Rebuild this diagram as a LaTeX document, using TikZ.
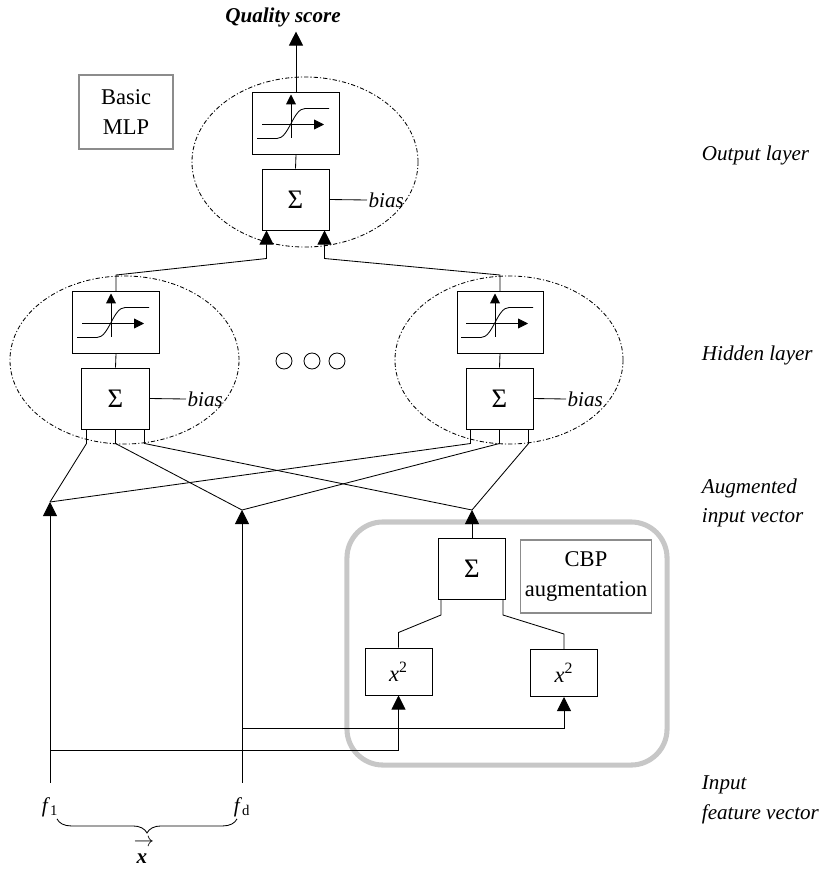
\documentclass[tikz,border=0pt]{standalone}
\usepackage{fontspec}
\setmainfont{Liberation Serif}
\usetikzlibrary{arrows.meta,calc,shapes.geometric,decorations.pathreplacing}

\newcommand\figfont{\fontsize{15}{21}\selectfont}
% sigmoid glyph inside an activation box
\newcommand\actcurve[1]{%
  \draw[wire,-{Triangle[length=7pt,width=7pt]}] ($(#1)+(-5,14)$) -- ($(#1)+(-5,-29)$);
  \draw[wire,-{Triangle[length=7pt,width=7pt]}] ($(#1)+(-34,1)$) -- ($(#1)+(28,1)$);
  \draw[wire] ($(#1)+(-39,15)$) -- ($(#1)+(-19,15)$)
    .. controls ($(#1)+(-7,15)$) and ($(#1)+(-3,-15)$) .. ($(#1)+(9,-15)$) -- ($(#1)+(33,-15)$);}

\tikzset{
  wire/.style={line width=0.6pt},
  feed/.style={wire,-{Triangle[length=10pt,width=10pt]}},
  unitbox/.style={draw,line width=0.7pt,inner sep=0pt,font=\figfont},
  actbox/.style={unitbox,minimum width=2.15cm,minimum height=1.55cm},
  sumbox/.style={unitbox,minimum width=1.675cm,minimum height=1.525cm,font=\fontsize{19}{21}\selectfont},
  sqbox/.style={unitbox,minimum width=1.675cm,minimum height=1.175cm,font=\fontsize{16}{21}\selectfont},
  notebox/.style={draw=black!45,line width=0.8pt,align=center,font=\fontsize{16}{21}\selectfont},
  neuron/.style={draw,ellipse,inner sep=0pt,line width=0.6pt,dash pattern=on 3pt off 1.5pt on 0.8pt off 1.5pt},
  biastext/.style={anchor=west,inner sep=1pt,font=\figfont\itshape},
  layertext/.style={anchor=west,align=left,font=\figfont\itshape},
  dotcircle/.style={draw,circle,line width=0.6pt,minimum size=0.4cm,inner sep=0pt},
}

\begin{document}
\begin{tikzpicture}[x=0.025cm,y=-0.025cm]
  \useasboundingbox (0,0) rectangle (821,870);

  % CBP augmentation block
  \node[draw=black!22,line width=3.6pt,rounded corners=0.9cm,minimum width=8cm,minimum height=6.075cm] (cbp) at (507,643.5) {};
  \node[notebox,minimum width=3.25cm,minimum height=1.825cm] (cbpnote) at (586,576.5) {CBP\\augmentation};
  \node[notebox,minimum width=2.35cm,minimum height=1.85cm] (mlpnote) at (126,112) {Basic\\MLP};

  % output layer
  \node[neuron,minimum width=5.65cm,minimum height=4.25cm] (outN) at (305,162) {};
  \node[actbox] (actO) at (296,123.5) {};
  \node[sumbox] (sumO) at (295.5,199.5) {Σ};
  \node[biastext] (biasO) at (367,200) {bias};
  \node[font=\figfont\bfseries\itshape] (qs) at (283,17) {Quality score};

  % hidden layer
  \node[neuron,minimum width=5.725cm,minimum height=4.2cm] (hidL) at (124.5,360) {};
  \node[neuron,minimum width=5.7cm,minimum height=4.2cm] (hidR) at (509,360) {};
  \node[actbox] (actL) at (116,322.5) {};
  \node[sumbox] (sumL) at (115.5,398.5) {Σ};
  \node[biastext] (biasL) at (186,399) {bias};
  \node[actbox] (actR) at (500,322.5) {};
  \node[sumbox] (sumR) at (499.5,398.5) {Σ};
  \node[biastext] (biasR) at (566,399) {bias};
  \node[dotcircle] (dot1) at (284,361) {};
  \node[dotcircle] (dot2) at (312,361) {};
  \node[dotcircle] (dot3) at (337,361) {};

  % augmented inputs and CBP
  \coordinate (a1) at (50,502);
  \coordinate (a2) at (242,510);
  \coordinate (a3) at (472,510);
  \node[sumbox] (sumC) at (472,569) {Σ};
  \node[sqbox] (sqL) at (398.5,671.5) {\textit{x}\textsuperscript{2}};
  \node[sqbox] (sqR) at (564,673) {\textit{x}\textsuperscript{2}};

  % input features
  \node[font=\figfont,inner sep=0pt,anchor=north] (f1) at (50,797) {\textit{f}\textsubscript{1}};
  \node[font=\figfont,inner sep=0pt,anchor=north] (fd) at (242,797) {\textit{f}\textsubscript{d}};
  \node[font=\figfont,align=center,inner sep=0pt] (vx) at (142,851) {\hspace*{3pt}$\rightarrow$\\[-9pt]\textbf{\textit{x}}};
  \coordinate (t1) at (50,750);
  \coordinate (t2) at (242,728);

  % layer names
  \node[layertext] (lout) at (697,155) {Output layer};
  \node[layertext] (lhid) at (697,355) {Hidden layer};
  \node[layertext] (laug) at (697,503) {Augmented\\input vector};
  \node[layertext] (lin) at (697,800) {Input\\feature vector};

  % activation glyphs
  \actcurve{actO}
  \actcurve{actL}
  \actcurve{actR}

  % connectors
  \draw[feed] (actO.north) -- (actO.north |- qs.south);
  \draw[wire] (sumO.north) -- (actO.south);
  \draw[wire] (sumL.north) -- (actL.south);
  \draw[wire] (sumR.north) -- (actR.south);
  \draw[wire] (sumO.east) -- (biasO.west);
  \draw[wire] (sumL.east) -- (biasL.west);
  \draw[wire] (sumR.east) -- (biasR.west);
  \draw[feed] (actL.north) -- ++(0,-16) -- ($(sumO.south west)+(5,28)$) -- ($(sumO.south west)+(5,0)$);
  \draw[feed] (actR.north) -- ++(0,-16) -- ($(sumO.south east)+(-5,28)$) -- ($(sumO.south east)+(-5,0)$);
  \foreach \s in {sumL,sumR}{
    \draw[wire] ($(\s.south west)+(5,0)$) -- ++(0,14) -- (a1);
    \draw[wire] (\s.south) -- ++(0,14) -- (a2);
    \draw[wire] ($(\s.south east)+(-5,0)$) -- ++(0,14) -- (a3);
  }
  \draw[feed,shorten <=10pt] (f1.north) -- (a1);
  \draw[feed,shorten <=10pt] (fd.north) -- (a2);
  \draw[feed] (sumC.north) -- (a3);
  \draw[wire] ($(sumC.south west)+(3,0)$) -- ++(0,15) -- ($(sqL.north)+(0,-15)$) -- (sqL.north);
  \draw[wire] ($(sumC.south east)+(-3,0)$) -- ++(0,15) -- ($(sqR.north)+(0,-15)$) -- (sqR.north);
  \draw[feed] (t1) -| (sqL.south);
  \draw[feed] (t2) -| (sqR.south);
  \draw[wire,decorate,decoration={brace,mirror,amplitude=10pt}] ($(f1.south)+(7,2)$) -- ($(fd.south)+(-5,2)$);
\end{tikzpicture}
\end{document}
